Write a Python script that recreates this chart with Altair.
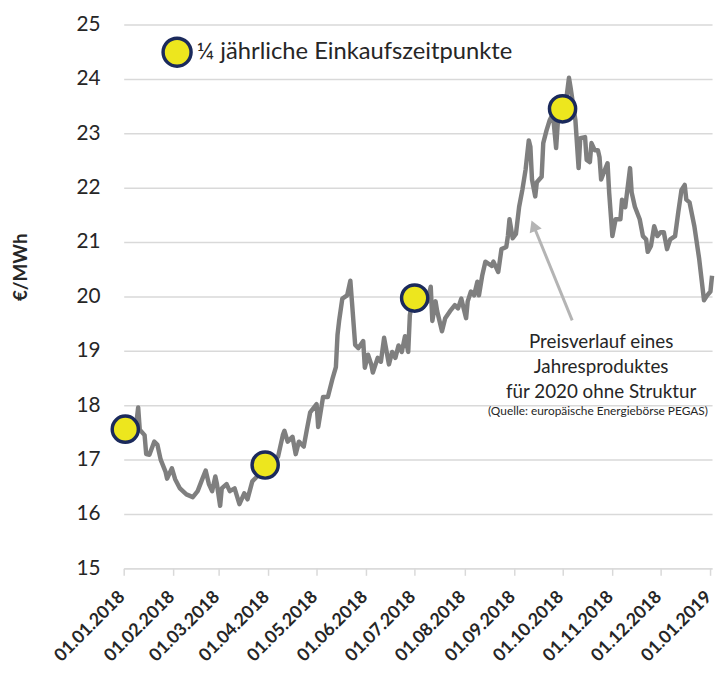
import altair as alt
import pandas as pd

FONT = "Lato"

dates = [
    "2018-01-02", "2018-01-05", "2018-01-09", "2018-01-10", "2018-01-11", "2018-01-14", "2018-01-15",
    "2018-01-17", "2018-01-20", "2018-01-22", "2018-01-24", "2018-01-27", "2018-01-28", "2018-01-31",
    "2018-02-02", "2018-02-05", "2018-02-09", "2018-02-13", "2018-02-16", "2018-02-19", "2018-02-21",
    "2018-02-23", "2018-02-25", "2018-02-27", "2018-02-28", "2018-03-02", "2018-03-03", "2018-03-06",
    "2018-03-08", "2018-03-11", "2018-03-14", "2018-03-17", "2018-03-19", "2018-03-22", "2018-03-25",
    "2018-03-28", "2018-03-30", "2018-04-03", "2018-04-07", "2018-04-10", "2018-04-11", "2018-04-13",
    "2018-04-16", "2018-04-18", "2018-04-20", "2018-04-23", "2018-04-25", "2018-04-27", "2018-05-01",
    "2018-05-02", "2018-05-05", "2018-05-08", "2018-05-11", "2018-05-13", "2018-05-14", "2018-05-15",
    "2018-05-17", "2018-05-20", "2018-05-22", "2018-05-23", "2018-05-25", "2018-05-27", "2018-05-30",
    "2018-05-31", "2018-06-02", "2018-06-04", "2018-06-05", "2018-06-08", "2018-06-10", "2018-06-12",
    "2018-06-15", "2018-06-17", "2018-06-19", "2018-06-21", "2018-06-23", "2018-06-25", "2018-06-27",
    "2018-06-28", "2018-06-30", "2018-07-03", "2018-07-06", "2018-07-09", "2018-07-11", "2018-07-12",
    "2018-07-14", "2018-07-15", "2018-07-18", "2018-07-20", "2018-07-23", "2018-07-26", "2018-07-28",
    "2018-07-30", "2018-08-02", "2018-08-03", "2018-08-05", "2018-08-07", "2018-08-09", "2018-08-10",
    "2018-08-12", "2018-08-14", "2018-08-18", "2018-08-19", "2018-08-22", "2018-08-24", "2018-08-27",
    "2018-08-28", "2018-08-29", "2018-08-31", "2018-09-02", "2018-09-04", "2018-09-06", "2018-09-08",
    "2018-09-10", "2018-09-11", "2018-09-12", "2018-09-14", "2018-09-15", "2018-09-18", "2018-09-19",
    "2018-09-21", "2018-09-23", "2018-09-25", "2018-09-27", "2018-09-28", "2018-09-30", "2018-10-03",
    "2018-10-05", "2018-10-06", "2018-10-09", "2018-10-11", "2018-10-12", "2018-10-15", "2018-10-16",
    "2018-10-18", "2018-10-19", "2018-10-21", "2018-10-23", "2018-10-24", "2018-10-25", "2018-10-28",
    "2018-10-29", "2018-10-30", "2018-11-01", "2018-11-03", "2018-11-06", "2018-11-07", "2018-11-09",
    "2018-11-12", "2018-11-13", "2018-11-15", "2018-11-18", "2018-11-20", "2018-11-22", "2018-11-23",
    "2018-11-25", "2018-11-27", "2018-11-29", "2018-12-01", "2018-12-03", "2018-12-05", "2018-12-07",
    "2018-12-10", "2018-12-12", "2018-12-14", "2018-12-16", "2018-12-17", "2018-12-19", "2018-12-22",
    "2018-12-25", "2018-12-28", "2018-12-30", "2019-01-01", "2019-01-02",
]
prices = [
    17.60, 17.62, 17.70, 17.96, 17.55, 17.45, 17.10,
    17.09, 17.33, 17.27, 17.00, 16.78, 16.65, 16.84,
    16.64, 16.47, 16.36, 16.31, 16.42, 16.65, 16.80,
    16.55, 16.42, 16.69, 16.55, 16.15, 16.47, 16.55,
    16.42, 16.47, 16.18, 16.38, 16.27, 16.60, 16.69,
    16.85, 16.90, 17.00, 17.05, 17.45, 17.53, 17.33,
    17.42, 17.10, 17.33, 17.24, 17.56, 17.87, 18.02,
    17.60, 18.15, 18.15, 18.50, 18.70, 19.29, 19.55,
    19.96, 20.02, 20.29, 19.90, 19.11, 19.05, 19.18,
    18.69, 18.93, 18.75, 18.60, 18.87, 18.80, 19.24,
    18.75, 18.98, 18.87, 19.10, 18.98, 19.27, 18.98,
    19.65, 20.00, 19.97, 19.80, 19.91, 20.18, 19.55,
    19.91, 19.73, 19.36, 19.60, 19.73, 19.84, 19.78,
    19.96, 19.60, 19.91, 20.09, 20.02, 20.27, 20.02,
    20.38, 20.64, 20.56, 20.64, 20.45, 20.87, 20.91,
    21.11, 21.42, 21.07, 21.15, 21.65, 21.96, 22.33,
    22.87, 22.75, 22.15, 21.84, 22.10, 22.20, 22.82,
    23.05, 23.24, 23.36, 22.73, 23.18, 23.45, 23.55,
    24.02, 23.84, 23.24, 22.36, 22.91, 22.93, 22.51,
    22.47, 22.82, 22.69, 22.69, 22.56, 22.15, 22.38,
    22.45, 21.91, 21.11, 21.42, 21.42, 21.78, 21.64,
    22.36, 21.91, 21.65, 21.42, 21.11, 21.05, 20.82,
    20.93, 21.29, 21.11, 21.18, 21.18, 20.87, 21.05,
    21.11, 21.55, 21.96, 22.05, 21.78, 21.73, 21.29,
    20.69, 19.93, 20.02, 20.09, 20.38,
]

buy_dates = ["2018-01-02", "2018-03-30", "2018-07-01", "2018-10-01"]
buy_prices = [17.56, 16.90, 19.97, 23.45]
legend_label = "¼ jährliche Einkaufszeitpunkte"

y_ticks = list(range(15, 26))
tick_months = [(2018, m) for m in range(1, 13)] + [(2019, 1)]

annot_lines = ["Preisverlauf eines", "Jahresproduktes", "für 2020 ohne Struktur"]
annot_dates = ["2018-10-25", "2018-10-25", "2018-10-25"]
annot_values = [19.16, 18.70, 18.25]
source_note = ["(Quelle: europäische Energiebörse PEGAS)"]
source_dates = ["2018-10-23"]
source_values = [17.89]

arrow_from_date = ["2018-10-07"]
arrow_from_value = [19.56]
arrow_to_date = ["2018-09-13"]
arrow_to_value = [21.30]

line_df = pd.DataFrame({"date": dates, "price": prices})
buy_df = pd.DataFrame({"date": buy_dates, "price": buy_prices, "label": [legend_label] * len(buy_dates)})
annot_df = pd.DataFrame({"date": annot_dates, "price": annot_values, "text": annot_lines})
src_df = pd.DataFrame({"date": source_dates, "price": source_values, "text": source_note})
arrow_df = pd.DataFrame({"date": arrow_from_date, "price": arrow_from_value,
                         "date2": arrow_to_date, "price2": arrow_to_value})
head_df = pd.DataFrame({"date": arrow_to_date, "price": arrow_to_value})

x_scale = alt.Scale(type="utc", domain=[alt.DateTime(year=2018, month=1, date=1, utc=True),
                                         alt.DateTime(year=2019, month=1, date=2, utc=True)])
y_scale = alt.Scale(domain=[15, 25], nice=False, zero=False)

x_axis = alt.Axis(
    values=[alt.DateTime(year=yy, month=mm, date=1, utc=True) for yy, mm in tick_months],
    format="%d.%m.%Y", labelAngle=-45, labelAlign="right", labelBaseline="middle",
    labelFontSize=18, labelFontWeight="bold", labelColor="#262626", labelFont=FONT,
    grid=False, domainColor="#d9d9d9", domainWidth=1.5, tickColor="#d9d9d9",
    tickSize=7, tickWidth=1.5, labelPadding=19, labelOffset=-2, labelOverlap=False,
    labelFlush=False,
)
y_axis = alt.Axis(
    values=y_ticks, labelFontSize=21, labelColor="#262626", labelFont=FONT,
    grid=True, gridColor="#d9d9d9", gridWidth=1.5, domain=False, ticks=False,
    labelPadding=24, titleFont=FONT, titleFontSize=19, titleFontWeight="bold",
    titleColor="#262626", titleAngle=-90, titleX=-104, titleY=245, titleAlign="center",
    titleBaseline="middle",
)


def xenc():
    return alt.X("date:T", scale=x_scale, axis=x_axis, title=None)


def yenc():
    return alt.Y("price:Q", scale=y_scale, axis=y_axis, title="€/MWh")


line = alt.Chart(line_df).mark_line(color="#7f7f7f", strokeWidth=4.5, strokeJoin="round").encode(
    x=xenc(), y=yenc(),
)

arrow = alt.Chart(arrow_df).mark_rule(color="#b4b4b4", strokeWidth=3).encode(
    x=xenc(), y=yenc(), x2="date2:T", y2="price2:Q",
)
head = alt.Chart(head_df).mark_point(shape="triangle-up", filled=True, size=170, angle=338,
                                     color="#b4b4b4", opacity=1).encode(
    x=xenc(), y=yenc(),
)

annot = alt.Chart(annot_df).mark_text(font=FONT, fontSize=19, color="#262626", align="center",
                                      baseline="middle").encode(
    x=xenc(), y=yenc(), text="text:N",
)
src = alt.Chart(src_df).mark_text(font=FONT, fontSize=12, color="#262626", align="center",
                                  baseline="middle").encode(
    x=xenc(), y=yenc(), text="text:N",
)

points = alt.Chart(buy_df).mark_circle(size=700, stroke="#1b2a5c", strokeWidth=3.5, opacity=1).encode(
    x=xenc(), y=yenc(),
    fill=alt.Fill("label:N", scale=alt.Scale(range=["#ede61e"]),
                  legend=alt.Legend(title=None, orient="none", legendX=38, legendY=12,
                                    symbolType="circle", symbolSize=800,
                                    symbolStrokeColor="#1b2a5c", symbolStrokeWidth=3.5,
                                    labelFontSize=24, labelFont=FONT, labelColor="#262626",
                                    labelOffset=4, labelLimit=500)),
)

chart = alt.layer(line, arrow, head, annot, src, points).properties(
    width=595, height=550,
    autosize=alt.AutoSizeParams(type="none"),
    padding={"left": 117, "top": 13, "right": 4, "bottom": 94},
).configure_view(strokeWidth=0)

chart.save("out.html", embed_options={"renderer": "svg", "actions": False})
